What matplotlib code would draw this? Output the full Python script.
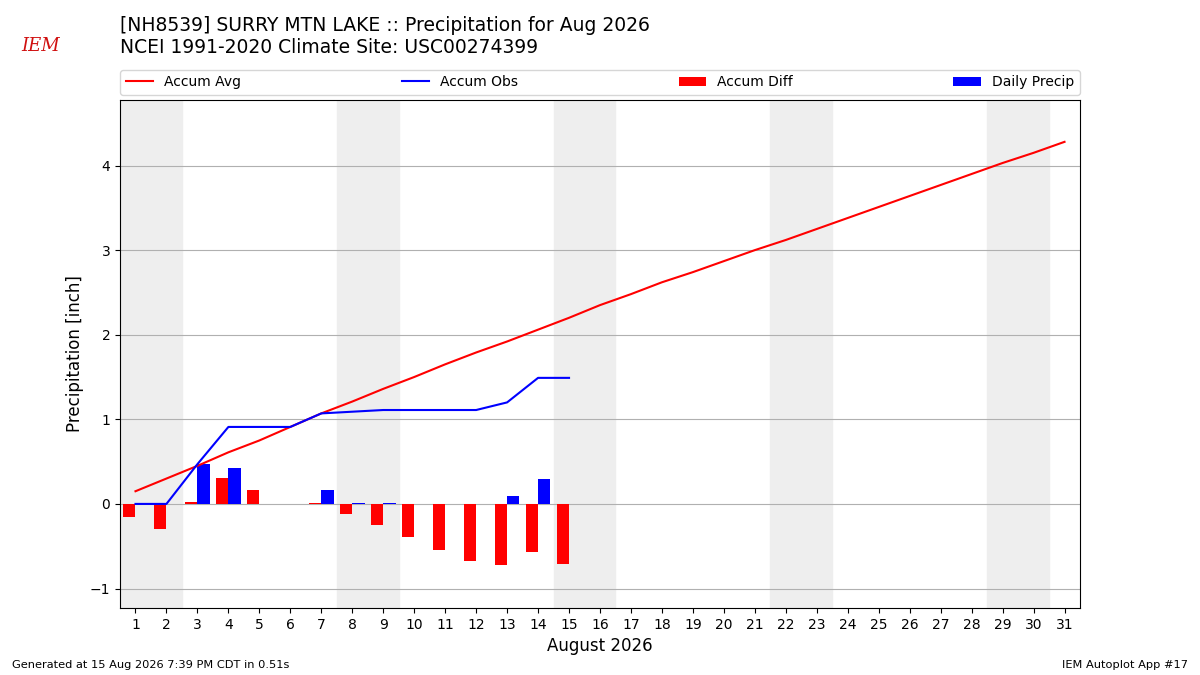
import matplotlib
matplotlib.use("Agg")
import matplotlib.pyplot as plt
import numpy as np

# Datos (pulgadas).
days = list(range(1, 32))
accum_avg = [0.15, 0.30, 0.45, 0.61, 0.75, 0.91, 1.07, 1.21, 1.36, 1.50,
             1.65, 1.79, 1.92, 2.06, 2.20, 2.35, 2.48, 2.62, 2.74, 2.87,
             3.00, 3.12, 3.25, 3.38, 3.51, 3.64, 3.77, 3.90, 4.03, 4.15, 4.28]
obs_days = list(range(1, 16))
accum_obs = [0.00, 0.00, 0.47, 0.91, 0.91, 0.91, 1.07, 1.09, 1.11, 1.11,
             1.11, 1.11, 1.20, 1.49, 1.49]
daily_precip = [0.00, 0.00, 0.47, 0.43, 0.00, 0.00, 0.16, 0.01, 0.01, 0.00,
                0.00, 0.00, 0.09, 0.29, 0.00]
accum_diff = [-0.15, -0.30, 0.02, 0.31, 0.16, 0.00, 0.01, -0.12, -0.25, -0.39,
              -0.54, -0.68, -0.72, -0.57, -0.71]
weekends = [(1, 2), (8, 9), (15, 16), (22, 23), (29, 30)]

fig = plt.figure(figsize=(12, 6.75), dpi=100)
ax = fig.add_axes([0.1, 0.0993, 0.8, 0.7526])

for a, b in weekends:
    ax.axvspan(a - 0.5, b + 0.5, color="#eeeeee", zorder=0)

ax.plot(days, accum_avg, color="r", lw=1.5, label="Accum Avg", zorder=3)
ax.plot(obs_days, accum_obs, color="b", lw=1.5, label="Accum Obs", zorder=3)
ax.bar(obs_days, accum_diff, width=-0.4, align="edge", color="r",
       label="Accum Diff", zorder=2)
ax.bar(obs_days, daily_precip, width=0.4, align="edge", color="b",
       label="Daily Precip", zorder=2)

ax.set_xlim(0.5, 31.5)
ax.set_ylim(-1.23, 4.775)
ax.set_xticks(days)
ax.set_yticks([-1, 0, 1, 2, 3, 4])
ax.tick_params(labelsize=10)
ax.grid(axis="y", color="#b0b0b0", zorder=1)
ax.set_axisbelow(True)
ax.set_xlabel("August 2026", fontsize=12)
ax.set_ylabel("Precipitation [inch]", fontsize=12)

ax.legend(bbox_to_anchor=(0, 1.01, 1, 0.05), loc="lower left", ncol=4,
          mode="expand", borderaxespad=0, fontsize=10)

fig.text(0.1, 0.977, "[NH8539] SURRY MTN LAKE :: Precipitation for Aug 2026\n"
         "NCEI 1991-2020 Climate Site: USC00274399",
         fontsize=13.5, va="top", ha="left")
fig.text(0.01, 0.01, "Generated at 15 Aug 2026 7:39 PM CDT in 0.51s", fontsize=8.2)
fig.text(0.99, 0.01, "IEM Autoplot App #17", fontsize=8.2, ha="right")
fig.text(0.018, 0.925, "IEM", fontsize=13, color="#d01010",
         family="DejaVu Serif", style="italic")

fig.savefig("out.png", dpi=100)
